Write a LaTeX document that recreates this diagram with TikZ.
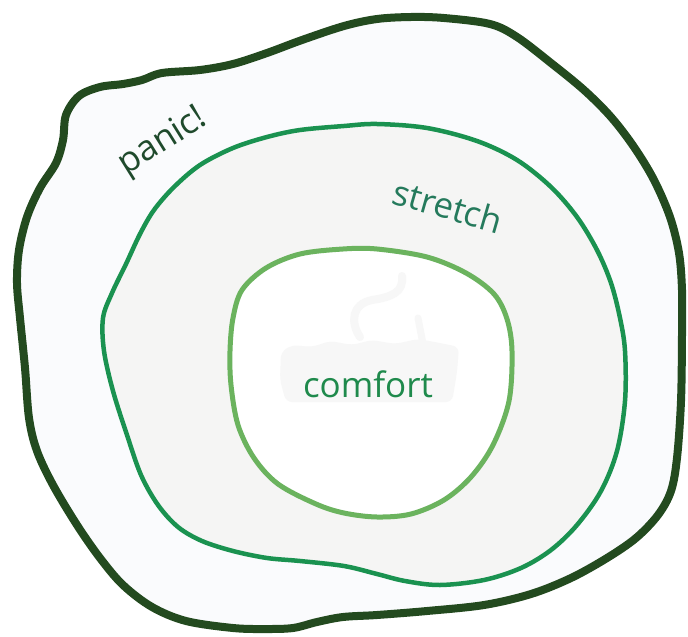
\documentclass[tikz,border=0pt]{standalone}
\usepackage{fontspec}
\setmainfont{Open Sans}
\definecolor{panicline}{HTML}{234A1F}
\definecolor{stretchline}{HTML}{1A9250}
\definecolor{comfortline}{HTML}{6BB35E}
\definecolor{panictext}{HTML}{1F4A2C}
\definecolor{stretchtext}{HTML}{257A5C}
\definecolor{comforttext}{HTML}{1F8A4C}
\definecolor{panicfill}{HTML}{FAFBFD}
\definecolor{stretchfill}{HTML}{F5F5F4}

\begin{document}
\begin{tikzpicture}[x=1pt,y=-1pt,
    zone/.style={line join=round,smooth cycle,tension=0.55},
    zonetext/.style={font=\fontsize{35}{40}\selectfont,inner sep=0pt},
    ghost/.style={black!3}]
  \useasboundingbox (0,0) rectangle (688,637);
  % outer zone
  \draw[panicline,line width=8pt,fill=panicfill] plot[zone] coordinates {
    (20,318) (17,283) (19,250) (27,217) (40,188) (56,163) (63,140) (66,115)
    (79,96) (100,87) (123,84) (142,80) (162,73) (200,70) (233,64) (267,53)
    (302,40) (344,26) (377,19) (411,17) (444,18) (490,24) (517,37) (551,63)
    (584,90) (611,117) (634,147) (654,180) (670,217) (679,253) (682,290)
    (682,335) (681,401) (677,458) (671,491) (658,515) (636,538) (607,558)
    (571,578) (531,594) (484,605) (427,611) (377,615) (343,617) (317,622)
    (293,628) (265,629) (233,628) (186,621) (152,607) (123,585) (100,558)
    (77,525) (53,485) (37,451) (29,418) (25,368)};
  % stretch zone
  \draw[stretchline,line width=4.5pt,fill=stretchfill] plot[zone] coordinates {
    (103,318) (112,293) (126,264) (140,234) (154,210) (174,187) (200,165)
    (233,148) (267,137) (300,130) (344,126) (377,124) (427,128) (477,141)
    (517,160) (551,187) (577,217) (597,250) (611,283) (620,318) (625,351)
    (625,401) (617,451) (601,491) (577,525) (551,550) (521,568) (484,580)
    (440,585) (405,581) (377,574) (344,566) (300,561) (267,558) (233,551)
    (202,541) (178,527) (158,505) (141,475) (127,435) (113,391) (104,351)};
  % comfort zone
  \draw[comfortline,line width=5pt,fill=white] plot[zone] coordinates {
    (233,318) (242,290) (266,268) (300,254) (343,249) (377,249) (427,257)
    (466,273) (494,294) (507,319) (512,351) (509,401) (493,445) (471,477)
    (444,500) (411,514) (377,517) (344,513) (316,504) (278,484) (254,458)
    (238,425) (231,385) (230,351)};
  % faint picture behind the word
  \fill[ghost,rounded corners=6pt] (281,352) -- (292,345) -- (312,347)
    -- (330,341) -- (352,345) -- (372,340) -- (395,344) -- (418,339)
    -- (440,343) -- (459,347) -- (457,372) -- (452,402) -- (286,402)
    -- (280,380) -- cycle;
  \draw[ghost,line width=8pt,line cap=round] (360,337)
    .. controls (350,322) and (352,304) .. (372,300)
    .. controls (392,297) and (404,292) .. (402,276);
  \draw[ghost,line width=7pt,line cap=round] (418,318) -- (423,344);
  \node[zonetext,text=panictext,rotate=32] (panic) at (163,142) {panic!};
  \node[zonetext,text=stretchtext,rotate=-16] (stretch) at (448,206) {stretch};
  \node[zonetext,text=comforttext,anchor=base] (comfort) at (368,397) {comfort};
\end{tikzpicture}
\end{document}
